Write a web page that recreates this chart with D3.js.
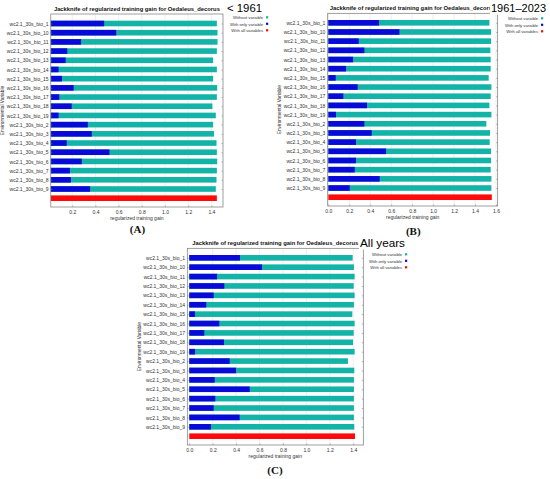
<!DOCTYPE html>
<html lang="en">
<head>
<meta charset="UTF-8">
<title>Jackknife</title>
<script src="https://cdnjs.cloudflare.com/ajax/libs/d3/7.8.5/d3.min.js"></script>
<style>
  body { margin: 0; background: #fff; }
  svg { display: block; }
</style>
</head>
<body>
<script>
// variables, in the order Maxent lists them
const vars = ['wc2.1_30s_bio_1', 'wc2.1_30s_bio_10', 'wc2.1_30s_bio_11', 'wc2.1_30s_bio_12',
  'wc2.1_30s_bio_13', 'wc2.1_30s_bio_14', 'wc2.1_30s_bio_15', 'wc2.1_30s_bio_16',
  'wc2.1_30s_bio_17', 'wc2.1_30s_bio_18', 'wc2.1_30s_bio_19', 'wc2.1_30s_bio_2',
  'wc2.1_30s_bio_3', 'wc2.1_30s_bio_4', 'wc2.1_30s_bio_5', 'wc2.1_30s_bio_6',
  'wc2.1_30s_bio_7', 'wc2.1_30s_bio_8', 'wc2.1_30s_bio_9'];

// (A) < 1961
const withoutA = [1.447, 1.453, 1.453, 1.447, 1.415, 1.447, 1.415, 1.450, 1.447, 1.409,
  1.438, 1.415, 1.423, 1.444, 1.447, 1.450, 1.447, 1.444, 1.438];
const onlyA = [0.475, 0.579, 0.276, 0.157, 0.143, 0.082, 0.111, 0.212, 0.088, 0.195,
  0.082, 0.334, 0.368, 0.152, 0.521, 0.282, 0.180, 0.189, 0.354];
const allA = 1.447;

// (B) 1961-2023
const withoutB = [1.537, 1.553, 1.553, 1.546, 1.549, 1.549, 1.530, 1.556, 1.549, 1.537,
  1.556, 1.508, 1.543, 1.540, 1.553, 1.553, 1.549, 1.556, 1.556];
const onlyB = [0.484, 0.678, 0.290, 0.344, 0.236, 0.169, 0.070, 0.280, 0.143, 0.369,
  0.073, 0.344, 0.414, 0.264, 0.551, 0.264, 0.252, 0.490, 0.204];
const allB = 1.560;

// (C) all years
const withoutC = [1.395, 1.406, 1.412, 1.404, 1.412, 1.406, 1.392, 1.412, 1.404, 1.398,
  1.412, 1.355, 1.409, 1.406, 1.406, 1.406, 1.406, 1.406, 1.409];
const onlyC = [0.433, 0.621, 0.237, 0.299, 0.208, 0.145, 0.049, 0.256, 0.128, 0.296,
  0.049, 0.345, 0.399, 0.217, 0.516, 0.222, 0.208, 0.430, 0.185];
const allC = 1.415;

const ticksA = [0.2, 0.4, 0.6, 0.8, 1.0, 1.2, 1.4];
const ticksB = [0.0, 0.2, 0.4, 0.6, 0.8, 1.0, 1.2, 1.4, 1.6];
const ticksC = [0.0, 0.2, 0.4, 0.6, 0.8, 1.0, 1.2, 1.4];

const legendItems = ['Without variable', 'With only variable', 'With all variables'];
const title = 'Jackknife of regularized training gain for Oedaleus_decorus';

const teal = '#13b3a8', blue = '#0a0ad8', red = '#ff0a0a';
const sans = '"Liberation Sans", Arial, sans-serif';

const W = 550, H = 479;
const svg = d3.select('body').append('svg').attr('width', W).attr('height', H);

function panel(cfg) {
  const { left, right, top, bottom, domain, ticks, without, only, all, period, periodX, periodY, periodLen, letter, letterX, letterY, legendX, legendY } = cfg;
  const g = svg.append('g');
  const rowKeys = vars.concat(['__all']);

  const x = d3.scaleLinear().domain(domain).range([left, right]);
  const y = d3.scalePoint().domain(rowKeys).range([top + 9.5, bottom - 8.8]);
  const bh = 5.6;
  const x0 = x(Math.max(0, domain[0]));

  // frame + faint grid
  g.append('rect').attr('x', left).attr('y', top).attr('width', right - left).attr('height', bottom - top)
    .attr('fill', '#fff');
  g.selectAll('.grid').data(ticks).enter().append('line')
    .attr('x1', d => x(d)).attr('x2', d => x(d)).attr('y1', top).attr('y2', bottom)
    .attr('stroke', '#e2e2e2').attr('stroke-width', 0.6);

  const rows = vars.map((v, i) => ({ v, w: without[i], o: only[i] }));
  g.selectAll('.wo').data(rows).enter().append('rect')
    .attr('x', x0).attr('y', d => y(d.v) - bh / 2)
    .attr('width', d => x(d.w) - x0).attr('height', bh).attr('fill', teal);
  g.selectAll('.on').data(rows).enter().append('rect')
    .attr('x', x0).attr('y', d => y(d.v) - bh / 2)
    .attr('width', d => x(d.o) - x0).attr('height', bh).attr('fill', blue);
  g.append('rect').attr('x', x0).attr('y', y('__all') - bh / 2)
    .attr('width', x(all) - x0).attr('height', bh).attr('fill', red);

  g.append('rect').attr('x', left).attr('y', top).attr('width', right - left).attr('height', bottom - top)
    .attr('fill', 'none').attr('stroke', '#777').attr('stroke-width', 0.7);

  // y axis: labels + little ticks on both sides
  const yAxis = d3.axisLeft(y).tickValues(vars).tickSize(-1.5).tickPadding(2.3);
  const ya = g.append('g').attr('transform', `translate(${left},0)`).call(yAxis);
  ya.select('.domain').remove();
  ya.selectAll('text').attr('font-family', sans).attr('font-size', 5).attr('fill', '#333');
  ya.selectAll('line').attr('stroke', '#777').attr('stroke-width', 0.5);
  const yr = g.append('g').attr('transform', `translate(${right},0)`)
    .call(d3.axisRight(y).tickValues(vars).tickSize(-1.5).tickFormat(''));
  yr.select('.domain').remove();
  yr.selectAll('line').attr('stroke', '#777').attr('stroke-width', 0.5);

  // x axis
  const xa = g.append('g').attr('transform', `translate(0,${bottom})`)
    .call(d3.axisBottom(x).tickValues(ticks).tickFormat(d3.format('.1f')).tickSize(-1.5).tickPadding(3));
  xa.select('.domain').remove();
  xa.selectAll('text').attr('font-family', sans).attr('font-size', 5).attr('fill', '#333');
  xa.selectAll('line').attr('stroke', '#777').attr('stroke-width', 0.5);

  const cx = (left + right) / 2;
  g.append('text').attr('x', cx).attr('y', bottom + 13).attr('text-anchor', 'middle')
    .attr('font-family', sans).attr('font-size', 5).attr('fill', '#333')
    .text('regularized training gain');
  g.append('text').attr('transform', `translate(${left - 46.5},${(top + bottom) / 2}) rotate(-90)`)
    .attr('text-anchor', 'middle').attr('font-family', sans).attr('font-size', 4.8).attr('fill', '#333')
    .text('Environmental Variable');

  // title
  g.append('text').attr('x', cx).attr('y', top - 3).attr('text-anchor', 'middle')
    .attr('font-family', sans).attr('font-size', 5.8).attr('font-weight', 'bold').attr('fill', '#111')
    .attr('textLength', 166).attr('lengthAdjust', 'spacingAndGlyphs')
    .text(title);

  // period label over a white patch
  const pt = g.append('text').attr('x', periodX).attr('y', periodY)
    .attr('font-family', sans).attr('font-size', 11.8).attr('fill', '#000')
    .attr('textLength', periodLen).attr('lengthAdjust', 'spacingAndGlyphs').text(period);
  const bb = pt.node().getBBox();
  g.insert('rect', () => pt.node()).attr('x', bb.x - 1).attr('y', bb.y + 1)
    .attr('width', bb.width + 2).attr('height', bb.height - 1).attr('fill', '#fff');

  // legend
  const lg = g.append('g');
  legendItems.forEach((t, i) => {
    lg.append('text').attr('x', legendX).attr('y', legendY + i * 6.5 + 1.6).attr('text-anchor', 'end')
      .attr('font-family', sans).attr('font-size', 4.2).attr('fill', '#333').text(t);
    lg.append('rect').attr('x', legendX + 3).attr('y', legendY + i * 6.5 - 1.3)
      .attr('width', 2.2).attr('height', 2.2).attr('fill', [teal, blue, red][i]);
  });

  svg.append('text').attr('x', letterX).attr('y', letterY).attr('text-anchor', 'middle')
    .attr('font-family', '"Liberation Serif", "Times New Roman", serif').attr('font-size', 11)
    .attr('font-weight', 'bold').attr('fill', '#111').text(letter);
}

panel({ left: 50.8, right: 223, top: 14, bottom: 207, domain: [0.015, 1.5], ticks: ticksA,
  without: withoutA, only: onlyA, all: allA,
  period: '< 1961', periodX: 227, periodY: 12, periodLen: 35, letter: '(A)', letterX: 137.5, letterY: 233,
  legendX: 263, legendY: 17.5 });

panel({ left: 327.7, right: 497.7, top: 13.3, bottom: 206, domain: [-0.006, 1.616], ticks: ticksB,
  without: withoutB, only: onlyB, all: allB,
  period: '1961\u20132023', periodX: 491, periodY: 11.5, periodLen: 55, letter: '(B)', letterX: 413.3, letterY: 234.5,
  legendX: 538, legendY: 18.5 });

panel({ left: 187.3, right: 363.3, top: 248.3, bottom: 445, domain: [-0.017, 1.486], ticks: ticksC,
  without: withoutC, only: onlyC, all: allC,
  period: 'All years', periodX: 360, periodY: 246.5, periodLen: 45, letter: '(C)', letterX: 275, letterY: 474,
  legendX: 402, legendY: 254.5 });
</script>
</body>
</html>
